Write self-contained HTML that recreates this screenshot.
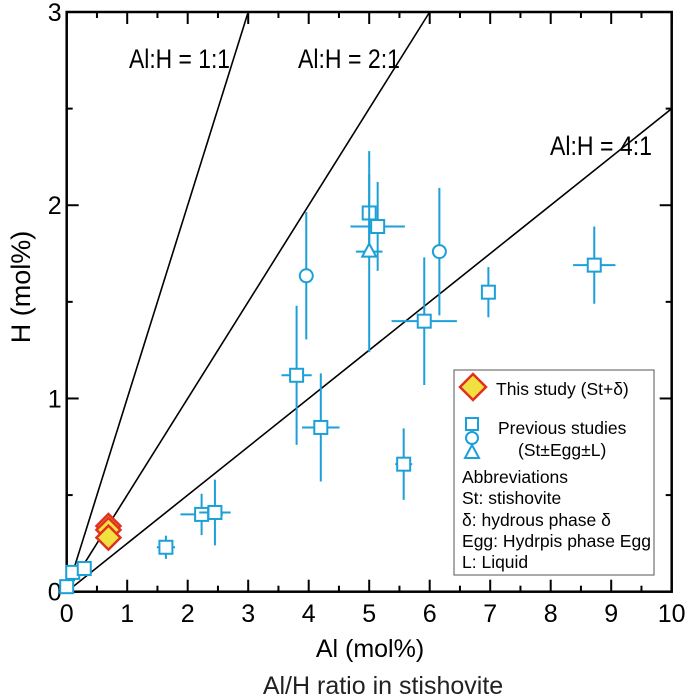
<!DOCTYPE html>
<html><head><meta charset="utf-8"><style>
html,body{margin:0;padding:0;background:#fff;}
svg{display:block;font-family:"Liberation Sans",Arial,sans-serif;}
</style></head><body>
<svg id="chart" width="685" height="697" viewBox="0 0 685 697">
<g id="lines"></g>
<g id="axes"></g>
<g id="pts"></g>
<text x="129" y="68" font-size="27" textLength="101" lengthAdjust="spacingAndGlyphs">Al:H = 1:1</text>
<text x="298" y="68" font-size="27" textLength="102" lengthAdjust="spacingAndGlyphs">Al:H = 2:1</text>
<text x="550" y="155" font-size="27" textLength="102" lengthAdjust="spacingAndGlyphs">Al:H = 4:1</text>
<text x="370" y="657" font-size="25" text-anchor="middle">Al (mol%)</text>
<text x="383" y="694" font-size="25" text-anchor="middle" fill="#222">Al/H ratio in stishovite</text>
<text transform="translate(30,287) rotate(-90)" font-size="27" text-anchor="middle">H (mol%)</text>
<g>
<rect x="454" y="370" width="200" height="205" fill="#fff" stroke="#555" stroke-width="1"/>
<polygon points="473,374 486,387 473,400 460,387" fill="#f0e040" stroke="#e03020" stroke-width="2.5"/>
<text x="496" y="395" font-size="17.5">This study (St+δ)</text>
<rect x="466" y="418" width="12" height="12" fill="none" stroke="#1ba0d8" stroke-width="2"/>
<circle cx="472" cy="438" r="6" fill="none" stroke="#1ba0d8" stroke-width="2"/>
<polygon points="472,445 479,458 465,458" fill="none" stroke="#1ba0d8" stroke-width="2"/>
<text x="498" y="434" font-size="17.5">Previous studies</text>
<text x="518" y="456" font-size="17.5">(St±Egg±L)</text>
<text x="462" y="483" font-size="17.5">Abbreviations</text>
<text x="462" y="504" font-size="17.5">St: stishovite</text>
<text x="462" y="526" font-size="17.5">δ: hydrous phase δ</text>
<text x="462" y="547" font-size="17.5" textLength="189" lengthAdjust="spacingAndGlyphs">Egg: Hydrpis phase Egg</text>
<text x="462" y="568" font-size="17.5">L: Liquid</text>
</g>
</svg>
<script>
const xTicks=[0,1,2,3,4,5,6,7,8,9,10];
const yTicks=[0,1,2,3];
const ratios=[1,2,4];
const diamondX=[0.69,0.69,0.69];
const diamondY=[0.34,0.32,0.28];
const prevShape=['s','s','s','s','s','s','s','c','s','s','t','s','c','s','s','s','s'];
const prevX=[0.0,0.1,0.29,1.64,2.23,2.45,3.80,3.96,4.20,5.00,5.00,5.14,6.16,5.91,6.97,8.72,5.57];
const prevY=[0.026,0.10,0.12,0.23,0.40,0.41,1.12,1.635,0.85,1.96,1.76,1.89,1.76,1.40,1.55,1.69,0.66];
const prevXErr=[0,0,0,0.15,0.35,0.26,0.25,0,0.31,0.1,0.22,0.45,0,0.54,0,0.35,0.14];
const prevYErr=[0,0,0,0.06,0.107,0.17,0.36,0.33,0.28,0.2,0.52,0.23,0.33,0.33,0.13,0.2,0.185];
const X0=66.7,X1=671.7,Y0=591.7,Y1=12;
const sx=v=>X0+(X1-X0)*v/10, sy=v=>Y0-(Y0-Y1)*v/3;
const NS='http://www.w3.org/2000/svg';
function mk(p,t,a){const e=document.createElementNS(NS,t);for(const k in a)e.setAttribute(k,a[k]);p.appendChild(e);return e;}
const ax=document.getElementById('axes'),ln=document.getElementById('lines'),pts=document.getElementById('pts');
ratios.forEach(r=>{let xe=Math.min(10,3*r);const l=mk(ln,'line',{x1:sx(0),y1:sy(0),x2:sx(xe),y2:sy(xe/r),stroke:'#000','stroke-width':1.6});

});
const fr=mk(ax,'rect',{x:X0,y:Y1,width:X1-X0,height:Y0-Y1,fill:'none',stroke:'#000','stroke-width':2.5});


for(let i=0;i<=20;i++){const v=i/2,L=i%2?6:12,x=sx(v);
mk(ax,'line',{x1:x,y1:Y0,x2:x,y2:Y0-L,stroke:'#000','stroke-width':2});
mk(ax,'line',{x1:x,y1:Y1,x2:x,y2:Y1+L,stroke:'#000','stroke-width':2});}
for(let i=0;i<=6;i++){const v=i/2,L=i%2?6:12,y=sy(v);
mk(ax,'line',{x1:X0,y1:y,x2:X0+L,y2:y,stroke:'#000','stroke-width':2});
mk(ax,'line',{x1:X1,y1:y,x2:X1-L,y2:y,stroke:'#000','stroke-width':2});}
xTicks.forEach(v=>{const t=mk(ax,'text',{x:sx(v),y:622,'font-size':25,'text-anchor':'middle'});t.textContent=v;

});
yTicks.forEach(v=>{const t=mk(ax,'text',{x:X0-5,y:sy(v)+9,'font-size':25,'text-anchor':'end'});t.textContent=v;

});
const C='#1ba0d8';
prevX.forEach((v,i)=>{const x=sx(v),y=sy(prevY[i]);const g=mk(pts,'g',{});


if(prevXErr[i])mk(g,'line',{x1:sx(v-prevXErr[i]),y1:y,x2:sx(v+prevXErr[i]),y2:y,stroke:C,'stroke-width':2});
if(prevYErr[i])mk(g,'line',{x1:x,y1:sy(prevY[i]-prevYErr[i]),x2:x,y2:sy(prevY[i]+prevYErr[i]),stroke:C,'stroke-width':2});
const s=prevShape[i];
if(s==='s')mk(g,'rect',{x:x-6.5,y:y-6.5,width:13,height:13,fill:'#fff',stroke:C,'stroke-width':2});
else if(s==='c')mk(g,'circle',{cx:x,cy:y,r:6.5,fill:'#fff',stroke:C,'stroke-width':2});
else mk(g,'polygon',{points:`${x},${y-8} ${x+7},${y+5} ${x-7},${y+5}`,fill:'#fff',stroke:C,'stroke-width':2});});
diamondX.forEach((v,i)=>{const x=sx(v),y=sy(diamondY[i]);
const d=mk(pts,'polygon',{points:`${x},${y-12} ${x+12},${y} ${x},${y+12} ${x-12},${y}`,fill:'#f0e040',stroke:'#e03020','stroke-width':2.5});

});
</script>
</body></html>
